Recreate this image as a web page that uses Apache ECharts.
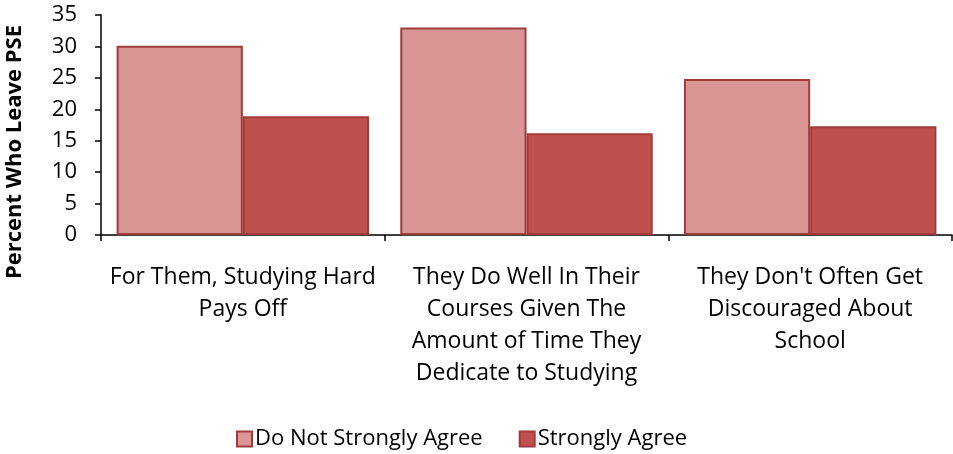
<!DOCTYPE html>
<html>
<head>
<meta charset="utf-8">
<script src="https://cdn.jsdelivr.net/npm/echarts@6/dist/echarts.min.js"></script>
<style>
  html, body { margin: 0; padding: 0; background: #fff; }
  #chart { width: 953px; height: 454px; }
</style>
</head>
<body>
<div id="chart"></div>
<script>
const categories = [
  "For Them, Studying Hard\nPays Off",
  "They Do Well In Their\nCourses Given The\nAmount of Time They\nDedicate to Studying",
  "They Don't Often Get\nDiscouraged About\nSchool"
];
const seriesNames = ["Do Not Strongly Agree", "Strongly Agree"];
const notStronglyAgree = [30.1, 33.0, 24.8];
const stronglyAgree = [18.9, 16.2, 17.3];
const yTitle = "Percent Who Leave PSE";

const FONT = "'Open Sans', sans-serif";
const chart = echarts.init(document.getElementById('chart'), null, { renderer: 'canvas' });
chart.setOption({
  animation: false,
  backgroundColor: '#ffffff',
  grid: { left: 101, right: 1, top: 15, bottom: 219, containLabel: false },
  legend: {
    data: seriesNames,
    bottom: -1,
    left: 231,
    itemWidth: 15,
    itemHeight: 15,
    itemGap: 36,
    textStyle: { fontFamily: FONT, fontSize: 22, color: '#000', padding: [0, 0, 0, -2] },
    icon: 'rect'
  },
  xAxis: {
    type: 'category',
    data: categories,
    axisLine: { lineStyle: { color: '#000', width: 1.5 } },
    axisTick: { show: true, length: 6, lineStyle: { color: '#000', width: 1.5 } },
    axisLabel: { fontFamily: FONT, fontSize: 23, color: '#000', lineHeight: 32, margin: 26, interval: 0 }
  },
  yAxis: {
    type: 'value',
    min: 0, max: 35, interval: 5,
    splitLine: { show: false },
    axisLine: { show: true, lineStyle: { color: '#000', width: 1.5 } },
    axisTick: { show: true, length: 6, lineStyle: { color: '#000', width: 1.5 } },
    axisLabel: { fontFamily: FONT, fontSize: 22, color: '#000', margin: 24 }
  },
  graphic: [{
    type: 'text',
    left: 4,
    top: 25,
    rotation: Math.PI / 2,
    style: { text: yTitle, fontFamily: FONT, fontSize: 22, fontWeight: 'bold', fill: '#000' }
  }],
  series: [
    {
      name: seriesNames[0], type: 'bar', data: notStronglyAgree,
      barGap: '0%', barCategoryGap: '11%',
      itemStyle: { color: '#D99694', borderColor: '#A23C3A', borderWidth: 2 }
    },
    {
      name: seriesNames[1], type: 'bar', data: stronglyAgree,
      barGap: '0%', barCategoryGap: '11%',
      itemStyle: { color: '#C0504D', borderColor: '#A23C3A', borderWidth: 2 }
    }
  ]
});
</script>
</body>
</html>
